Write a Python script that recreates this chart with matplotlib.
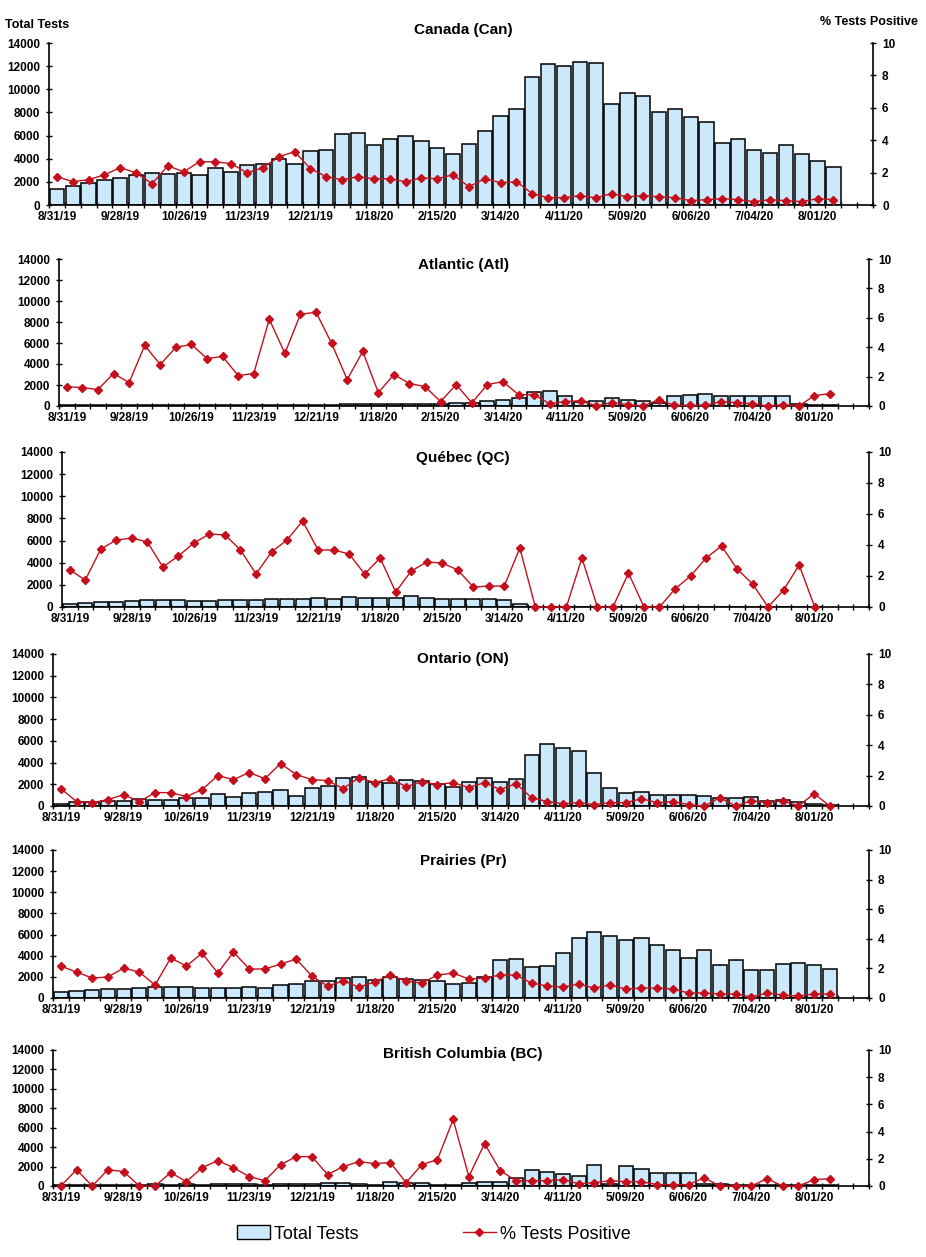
import numpy as np
import matplotlib.pyplot as plt
from matplotlib.patches import Patch
from matplotlib.lines import Line2D

plt.rcParams['font.family'] = ['Liberation Sans', 'DejaVu Sans']
plt.rcParams['font.weight'] = 'bold'

# week axis: 52 weekly slots, label every 4th week
n_weeks = 52
week_labels = ['8/31/19', '9/28/19', '10/26/19', '11/23/19', '12/21/19', '1/18/20',
               '2/15/20', '3/14/20', '4/11/20', '5/09/20', '6/06/20', '7/04/20', '8/01/20']

# Canada
can_tests = [1400, 1670, 1930, 2130, 2360, 2620, 2790, 2700, 2790, 2620,
             3220, 2870, 3480, 3560, 4000, 3560, 4690, 4770, 6150, 6240,
             5200, 5720, 5980, 5550, 4940, 4430, 5290, 6410, 7700, 8310,
             11070, 12190, 12010, 12360, 12270, 8740, 9690, 9430, 8050, 8310,
             7620, 7190, 5370, 5720, 4770, 4510, 5200, 4430, 3820, 3310]
can_pct = [1.75, 1.44, 1.56, 1.87, 2.30, 1.99, 1.31, 2.42, 2.05, 2.67,
           2.67, 2.55, 1.99, 2.30, 2.98, 3.29, 2.24, 1.75, 1.56, 1.75,
           1.62, 1.62, 1.44, 1.68, 1.62, 1.87, 1.13, 1.62, 1.38, 1.44,
           0.70, 0.45, 0.45, 0.57, 0.45, 0.70, 0.51, 0.57, 0.51, 0.45,
           0.27, 0.33, 0.39, 0.33, 0.21, 0.33, 0.27, 0.21, 0.39, 0.33]

# Atlantic
atl_tests = [50, 50, 50, 50, 50, 100, 100, 100, 100, 100,
             100, 100, 100, 100, 100, 100, 100, 100, 220, 220,
             150, 180, 180, 180, 200, 280, 320, 450, 540, 730,
             1310, 1470, 920, 380, 510, 730, 600, 450, 320, 990,
             1080, 1180, 920, 920, 920, 920, 990, 220, 60, 60]
atl_pct = [1.32, 1.25, 1.12, 2.21, 1.59, 4.12, 2.82, 3.99, 4.19, 3.23,
           3.37, 2.07, 2.21, 5.90, 3.58, 6.24, 6.38, 4.26, 1.80, 3.71,
           0.91, 2.14, 1.53, 1.32, 0.30, 1.46, 0.21, 1.46, 1.66, 0.77,
           0.77, 0.16, 0.30, 0.36, 0.0, 0.23, 0.09, 0.0, 0.43, 0.05,
           0.05, 0.05, 0.30, 0.23, 0.16, 0.0, 0.09, 0.0, 0.71, 0.84]

# Quebec
qc_tests = [270, 360, 450, 450, 540, 630, 630, 630, 540, 540,
            630, 630, 630, 720, 720, 720, 810, 720, 900, 810,
            810, 810, 990, 810, 720, 720, 720, 720, 630, 270,
            0, 0, 0, 0, 0, 0, 0, 0, 0, 0,
            0, 0, 0, 0, 0, 0, 0, 0, 0]
qc_pct = [2.39, 1.74, 3.74, 4.32, 4.45, 4.19, 2.58, 3.29, 4.13, 4.71,
          4.65, 3.68, 2.13, 3.55, 4.32, 5.55, 3.68, 3.68, 3.42, 2.13,
          3.16, 0.97, 2.32, 2.90, 2.84, 2.39, 1.29, 1.35, 1.35, 3.81,
          0.0, 0.0, 0.0, 3.16, 0.0, 0.0, 2.19, 0.0, 0.0, 1.16,
          2.00, 3.16, 3.94, 2.45, 1.48, 0.0, 1.10, 2.71, 0.0]

# Ontario
on_tests = [220, 400, 400, 490, 490, 680, 580, 580, 770, 770,
            1140, 860, 1230, 1320, 1510, 950, 1690, 1880, 2620, 2710,
            2250, 2150, 2430, 2340, 2060, 1780, 2250, 2620, 2250, 2520,
            4740, 5750, 5380, 5020, 3080, 1690, 1230, 1320, 1050, 1050,
            1050, 950, 770, 770, 860, 490, 580, 400, 220, 120]
on_pct = [1.14, 0.29, 0.22, 0.42, 0.75, 0.29, 0.88, 0.88, 0.62, 1.08,
          2.00, 1.74, 2.20, 1.80, 2.79, 2.07, 1.74, 1.67, 1.14, 1.87,
          1.54, 1.80, 1.27, 1.60, 1.41, 1.54, 1.21, 1.54, 1.08, 1.47,
          0.55, 0.29, 0.15, 0.22, 0.09, 0.22, 0.22, 0.48, 0.22, 0.29,
          0.09, 0.0, 0.55, 0.0, 0.35, 0.22, 0.35, 0.0, 0.81, 0.0]

# Prairies
pr_tests = [570, 660, 750, 850, 850, 940, 1040, 1040, 1040, 940,
            940, 940, 1040, 940, 1230, 1320, 1600, 1600, 1890, 1980,
            1700, 1980, 1790, 1700, 1600, 1320, 1420, 1980, 3580, 3680,
            2920, 3020, 4250, 5660, 6230, 5850, 5470, 5660, 5000, 4530,
            3770, 4530, 3110, 3580, 2640, 2640, 3210, 3300, 3110, 2740]
pr_pct = [2.16, 1.75, 1.35, 1.42, 2.02, 1.75, 0.88, 2.70, 2.16, 3.03,
          1.69, 3.10, 1.96, 1.96, 2.29, 2.63, 1.48, 0.81, 1.15, 0.74,
          1.08, 1.55, 1.15, 1.01, 1.55, 1.69, 1.28, 1.35, 1.55, 1.55,
          1.01, 0.81, 0.74, 0.94, 0.67, 0.88, 0.61, 0.67, 0.67, 0.61,
          0.34, 0.34, 0.27, 0.27, 0.07, 0.34, 0.20, 0.13, 0.27, 0.27]

# British Columbia
bc_tests = [140, 140, 140, 140, 140, 140, 240, 140, 240, 140,
            240, 240, 240, 140, 240, 240, 240, 340, 340, 240,
            140, 450, 340, 340, 140, 140, 340, 450, 450, 860,
            1690, 1480, 1270, 1070, 2200, 240, 2100, 1790, 1380, 1380,
            1380, 240, 240, 140, 140, 140, 140, 140, 140, 140]
bc_pct = [0.0, 1.20, 0.0, 1.20, 1.06, 0.0, 0.0, 0.98, 0.32, 1.35,
          1.87, 1.35, 0.69, 0.39, 1.57, 2.16, 2.16, 0.84, 1.43, 1.79,
          1.65, 1.72, 0.25, 1.57, 1.94, 4.89, 0.69, 3.12, 1.13, 0.39,
          0.39, 0.39, 0.47, 0.17, 0.25, 0.39, 0.32, 0.32, 0.10, 0.10,
          0.10, 0.61, 0.0, 0.0, 0.0, 0.54, 0.0, 0.0, 0.47, 0.54]

titles = ['Canada (Can)', 'Atlantic (Atl)', 'Québec (QC)', 'Ontario (ON)',
          'Prairies (Pr)', 'British Columbia (BC)']
tests_all = [can_tests, atl_tests, qc_tests, on_tests, pr_tests, bc_tests]
pct_all = [can_pct, atl_pct, qc_pct, on_pct, pr_pct, bc_pct]

# plot boxes in pixels: left, right, top, bottom ; title y
boxes = [(49, 873, 43, 205), (59, 869, 259, 406), (62, 869, 452, 607),
         (53, 869, 654, 806), (53, 869, 850, 998), (53, 869, 1050, 1186)]
title_y = [30, 265, 458, 659, 861, 1054]

W, H = 926, 1257
fig = plt.figure(figsize=(W / 100, H / 100), dpi=100)

bar_color = '#cce9fb'
line_color = '#c4101c'

for i in range(6):
    l, r, t, b = boxes[i]
    ax = fig.add_axes([l / W, 1 - b / H, (r - l) / W, (b - t) / H])
    tests = tests_all[i]
    pct = pct_all[i]
    x = np.arange(len(tests))
    ax.bar(x, tests, width=0.9, color=bar_color, edgecolor='black', linewidth=1.1)
    ax.set_xlim(-0.5, n_weeks - 0.5)
    ax.set_ylim(0, 14000)
    ax.set_yticks(np.arange(0, 14001, 2000))
    ax.set_xticks(np.arange(0, 4 * len(week_labels), 4))
    ax.set_xticklabels(week_labels)
    ax.set_xticks(np.arange(-0.5, n_weeks, 1), minor=True)
    ax.tick_params(axis='x', which='major', length=0, pad=4, labelsize=8.5)
    ax.tick_params(axis='x', which='minor', length=5, direction='inout', width=1)
    ax.tick_params(axis='y', length=5, direction='inout', width=1, pad=4, labelsize=8.5)
    ax.spines['top'].set_visible(False)
    ax.spines['right'].set_visible(False)
    for s in ['left', 'bottom']:
        ax.spines[s].set_linewidth(1.2)

    ax2 = ax.twinx()
    ax2.plot(np.arange(len(pct)), pct, color=line_color, lw=1.0, marker='D',
             markersize=4.5, markeredgecolor=line_color, clip_on=False)
    ax2.set_ylim(0, 10)
    ax2.set_yticks(np.arange(0, 11, 2))
    ax2.tick_params(axis='y', length=5, direction='inout', width=1, pad=4, labelsize=8.5)
    for s in ['top', 'left', 'bottom']:
        ax2.spines[s].set_visible(False)
    ax2.spines['right'].set_linewidth(1.2)

    fig.text(463 / W, 1 - title_y[i] / H, titles[i], ha='center', va='center',
             fontsize=11, fontweight='bold')

fig.text(5 / W, 1 - 25 / H, 'Total Tests', ha='left', va='center', fontsize=9)
fig.text(918 / W, 1 - 22 / H, '% Tests Positive', ha='right', va='center', fontsize=9)

handles = [Patch(facecolor=bar_color, edgecolor='black', linewidth=1.0),
           Line2D([], [], color=line_color, lw=1.0, marker='D', markersize=4.5)]
fig.legend(handles, ['Total Tests', '% Tests Positive'], loc='center',
           bbox_to_anchor=(434 / W, 1 - 1234 / H), ncol=2, frameon=False,
           prop={'size': 13, 'weight': 'normal'}, handlelength=1.8,
           handleheight=0.8, handletextpad=0.25, columnspacing=5.8)

fig.savefig('out.png', dpi=100)
